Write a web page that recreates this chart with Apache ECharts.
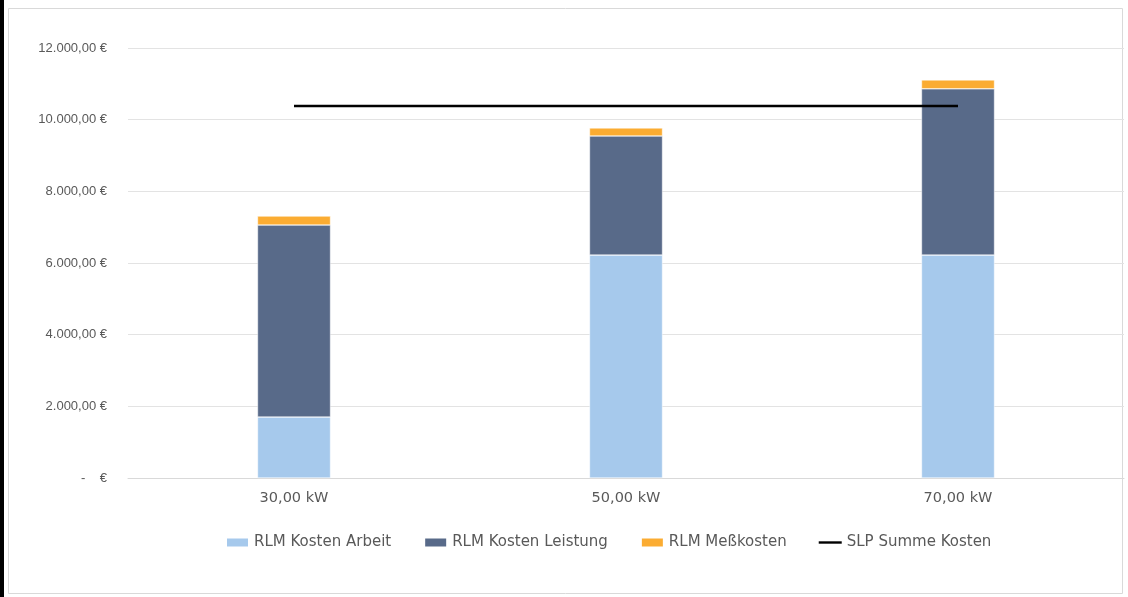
<!DOCTYPE html>
<html><head><meta charset="utf-8">
<script src="https://cdn.jsdelivr.net/npm/echarts@6/dist/echarts.min.js"></script>
<style>html,body{margin:0;padding:0;background:#fff}#c{width:1128px;height:597px}</style>
</head><body><div id="c"></div>
<script>
var categories = ['30,00 kW', '50,00 kW', '70,00 kW'];
var rlmArbeit = [1700, 6220, 6220];
var rlmLeistung = [5360, 3325, 4640];
var rlmMess = [250, 225, 250];
var slpSumme = [10380, 10380, 10380];
var yTicks = [0, 2000, 4000, 6000, 8000, 10000, 12000];

function fmt(v) {
  if (v === 0) return '-    €';
  var s = v.toFixed(2).split('.');
  var i = s[0].replace(/\B(?=(\d{3})+(?!\d))/g, '.');
  return i + ',' + s[1] + ' €';
}
var chart = echarts.init(document.getElementById('c'));
var txt = '#595959';
chart.setOption({
  animation: false,
  textStyle: {fontFamily: 'Roboto'},
  graphic: [
    {type: 'rect', shape: {x: 0, y: 0, width: 4, height: 597}, style: {fill: '#000'}},
    {type: 'rect', shape: {x: 8.5, y: 8.5, width: 1114, height: 585}, style: {fill: 'none', stroke: '#d9d9d9', lineWidth: 1}}
  ],
  grid: {left: 128, right: 4, top: 48, bottom: 119},
  legend: {
    bottom: 42, left: 220, itemGap: 32, itemWidth: 23, itemHeight: 10,
    textStyle: {color: txt, fontSize: 15, fontFamily: 'DejaVu Sans'},
    data: [
      {name: 'RLM Kosten Arbeit', icon: 'rect'},
      {name: 'RLM Kosten Leistung', icon: 'rect'},
      {name: 'RLM Meßkosten', icon: 'rect'},
      {name: 'SLP Summe Kosten', icon: 'path://M0,3.8 L23,3.8 L23,6.2 L0,6.2 Z'}
    ]
  },
  xAxis: {
    type: 'category', data: categories,
    axisLine: {lineStyle: {color: '#d9d9d9', width: 1}},
    axisTick: {show: false},
    axisLabel: {color: txt, fontSize: 14.5, fontFamily: 'DejaVu Sans', margin: 13}
  },
  yAxis: {
    type: 'value', min: 0, max: 12000, interval: 2000,
    axisLine: {show: false}, axisTick: {show: false},
    splitLine: {lineStyle: {color: '#e3e3e3', width: 1}},
    axisLabel: {color: txt, fontSize: 13, fontFamily: 'Liberation Sans', margin: 21, formatter: fmt}
  },
  series: [
    {name: 'RLM Kosten Arbeit', type: 'bar', stack: 'a', data: rlmArbeit, barWidth: '22%',
     itemStyle: {color: '#A6C9EC', borderColor: '#fff', borderWidth: 0.5}},
    {name: 'RLM Kosten Leistung', type: 'bar', stack: 'a', data: rlmLeistung,
     itemStyle: {color: '#586A89', borderColor: '#fff', borderWidth: 0.5}},
    {name: 'RLM Meßkosten', type: 'bar', stack: 'a', data: rlmMess,
     itemStyle: {color: '#FBAC32', borderColor: '#fff', borderWidth: 0.5}},
    {name: 'SLP Summe Kosten', type: 'line', data: slpSumme, symbol: 'none',
     lineStyle: {color: '#000', width: 2.5}, itemStyle: {color: '#000'}}
  ]
});
</script></body></html>
